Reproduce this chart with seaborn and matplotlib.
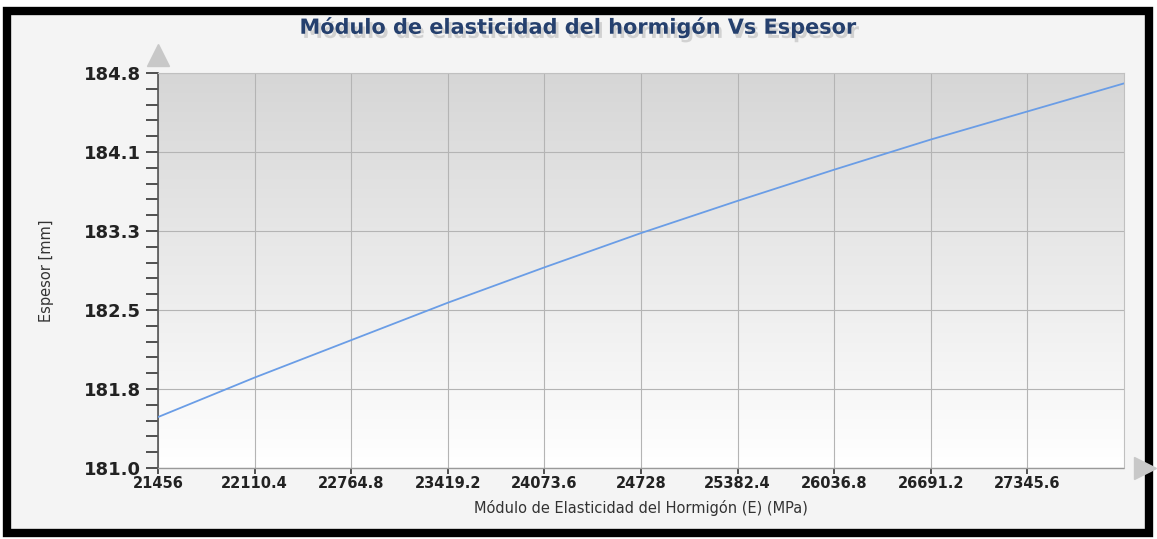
import numpy as np
import pandas as pd
import seaborn as sns
from matplotlib import pyplot as plt
from matplotlib import patheffects
from matplotlib.colors import LinearSegmentedColormap
from matplotlib.patches import Rectangle

# values
modulo_e = [21456, 22110.4, 22764.8, 23419.2, 24073.6, 24728,
            25382.4, 26036.8, 26691.2, 27345.6, 28000]
espesor = [181.49, 181.87, 182.23, 182.59, 182.93, 183.26,
           183.57, 183.87, 184.16, 184.43, 184.70]

x_ticks = [21456, 22110.4, 22764.8, 23419.2, 24073.6, 24728,
           25382.4, 26036.8, 26691.2, 27345.6]
x_tick_labels = ["21456", "22110.4", "22764.8", "23419.2", "24073.6", "24728",
                 "25382.4", "26036.8", "26691.2", "27345.6"]
y_ticks = [181.0, 181.76, 182.52, 183.28, 184.04, 184.8]
y_tick_labels = ["181.0", "181.8", "182.5", "183.3", "184.1", "184.8"]

df = pd.DataFrame({"E": modulo_e, "Espesor": espesor})

sns.set_style("white")
plt.rcParams["font.family"] = ["DejaVu Sans"]

W, H = 1157, 539
fig = plt.figure(figsize=(W / 100, H / 100), dpi=100)
fig.patch.set_facecolor("white")

# light gray panel with black frame
fig.patches.append(Rectangle((7 / W, 6 / H), 1142 / W, 522 / H, transform=fig.transFigure,
                             facecolor="#f4f4f4", edgecolor="black", linewidth=6, zorder=-10))

ax = fig.add_axes([158 / W, 1 - 468 / H, (1124 - 158) / W, (468 - 73) / H])
ax.set_facecolor("none")

# gradient background of the plot area
grad = np.linspace(0, 1, 256).reshape(-1, 1)
ax.imshow(grad, extent=[0, 1, 0, 1], transform=ax.transAxes, aspect="auto",
          cmap=LinearSegmentedColormap.from_list("g", ["#ffffff", "#d6d6d6"]),
          origin="lower", zorder=0)

sns.lineplot(data=df, x="E", y="Espesor", ax=ax, color="#6a9de6", linewidth=1.3, zorder=3)

ax.set_xlim(21456, 28000)
ax.set_ylim(181.0, 184.8)

ax.set_xticks(x_ticks)
ax.set_xticklabels(x_tick_labels, fontsize=10.5, fontweight="bold", color="#222222")
ax.set_yticks(y_ticks)
ax.set_yticklabels(y_tick_labels, fontsize=13, fontweight="bold", color="#222222")
ax.set_yticks(np.linspace(181.0, 184.8, 26), minor=True)

ax.grid(True, which="major", color="#b4b4b4", linewidth=0.8, zorder=1)
ax.tick_params(axis="y", which="major", length=9, width=1.2, color="#333333", direction="out", pad=3, left=True)
ax.tick_params(axis="y", which="minor", length=9, width=1.2, color="#333333", direction="out", left=True)
ax.tick_params(axis="x", which="major", length=4, width=1.2, color="#333333", direction="out", pad=2, bottom=True)

for side in ["top", "right"]:
    ax.spines[side].set_color("#c0c0c0")
    ax.spines[side].set_linewidth(0.8)
ax.spines["left"].set_color("#555555")
ax.spines["left"].set_linewidth(1.2)
ax.spines["bottom"].set_color("#999999")
ax.spines["bottom"].set_linestyle((0, (1, 1)))
ax.spines["bottom"].set_linewidth(1.0)

# axis arrows
ax.plot([0], [1.045], marker="^", markersize=16, color="#c8c8c8",
        transform=ax.transAxes, clip_on=False, zorder=5)
ax.plot([1.022], [0], marker=">", markersize=16, color="#c8c8c8",
        transform=ax.transAxes, clip_on=False, zorder=5)

ax.set_xlabel("Módulo de Elasticidad del Hormigón (E) (MPa)", fontsize=10.5,
              color="#333333", labelpad=6)
ax.set_ylabel("Espesor [mm]", fontsize=10.5, color="#333333", labelpad=22)

# title with a soft shadow
fig.text(0.5, 1 - 27 / H, "Módulo de elasticidad del hormigón Vs Espesor",
         ha="center", va="center", fontsize=15, fontweight="bold", color="#25406e",
         path_effects=[patheffects.withSimplePatchShadow(offset=(2, -3), shadow_rgbFace="#b0b0b0",
                                                         alpha=0.5)])

fig.savefig("out.png", dpi=100)
